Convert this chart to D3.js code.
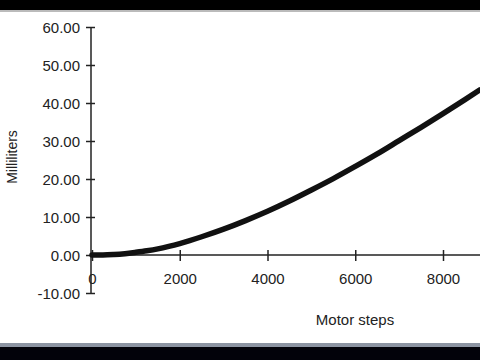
<!DOCTYPE html>
<html><head><meta charset="utf-8">
<script src="https://cdn.jsdelivr.net/npm/d3@7"></script>
<style>body{margin:0;background:#fff}svg{display:block}text{font-family:"Liberation Sans",Arial,sans-serif;fill:#222}</style>
</head><body><svg id="c" width="480" height="360"></svg>
<script>
const steps = [0,250,500,750,1000,1250,1500,1750,2000,2500,3000,3500,4000,4500,5000,5500,6000,6500,7000,7500,8000,8500,8840];
const ml    = [0.0,0.0,0.12,0.35,0.7,1.1,1.6,2.25,3.0,4.8,6.8,9.05,11.5,14.2,17.1,20.1,23.3,26.6,30.1,33.6,37.2,40.9,43.45];
const xTicks = [0,2000,4000,6000,8000];
const yTicks = [-10,0,10,20,30,40,50,60];
const xTitle = "Motor steps";
const yTitle = "Milliliters";

const svg = d3.select("#c");
svg.append("rect").attr("x",0).attr("y",0).attr("width",480).attr("height",360).attr("fill","#fff");
const x = d3.scaleLinear().domain([0,8000]).range([92,443]);
const y = d3.scaleLinear().domain([-10,60]).range([293,27]);

// y axis
const ya = svg.append("g").attr("transform",`translate(91,0)`)
  .call(d3.axisLeft(y).tickValues(yTicks).tickFormat(d => d.toFixed(2)).tickSize(5).tickPadding(6));
ya.select(".domain").attr("stroke","#222").attr("stroke-width",1.5).attr("d","M0,27V294");
ya.selectAll(".tick line").attr("stroke","#222").attr("stroke-width",1.5).attr("x1",4);
ya.selectAll(".tick text").style("font-size","15px").attr("fill","#222").attr("x",-11).attr("dy","0.35em");

// x axis at zero
const xa = svg.append("g").attr("transform",`translate(0,${y(0)})`)
  .call(d3.axisBottom(x).tickValues(xTicks).tickFormat(d => String(d)).tickSize(6).tickPadding(12));
xa.select(".domain").attr("stroke","#222").attr("stroke-width",1.5).attr("d","M91,0H480");
xa.selectAll(".tick line").attr("stroke","#222").attr("stroke-width",1.5).attr("y1",-5);
xa.selectAll(".tick text").style("font-size","15px").attr("fill","#222");

// curve
const pts = steps.map((s,i)=>[s,ml[i]]);
svg.append("path").datum(pts)
  .attr("fill","none").attr("stroke","#111").attr("stroke-width",5.5).attr("stroke-linecap","round")
  .attr("d", d3.line().x(d=>x(d[0])).y(d=>y(d[1])).curve(d3.curveMonotoneX));

// titles
svg.append("text").attr("x",355).attr("y",325).attr("text-anchor","middle").style("font-size","15px").text(xTitle);
svg.append("text").attr("transform","translate(17,157) rotate(-90)").attr("text-anchor","middle").style("font-size","14px").text(yTitle);

// video bars
svg.append("rect").attr("x",0).attr("y",0).attr("width",480).attr("height",10).attr("fill","#000");
svg.append("rect").attr("x",0).attr("y",10).attr("width",480).attr("height",2).attr("fill","#bbb");
svg.append("rect").attr("x",0).attr("y",343).attr("width",480).attr("height",4).attr("fill","#8c94a2");
svg.append("rect").attr("x",0).attr("y",347).attr("width",480).attr("height",13).attr("fill","#02020a");
</script></body></html>
